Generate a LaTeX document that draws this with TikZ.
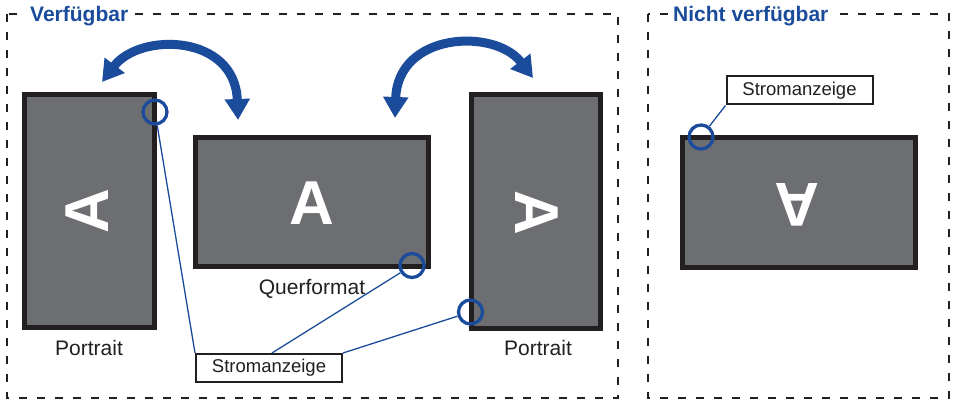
\documentclass[tikz,border=0pt]{standalone}
\usepackage{fontspec}
\setmainfont{Liberation Sans}
\usetikzlibrary{arrows.meta}
\definecolor{ablue}{HTML}{1B4C9C}
\definecolor{frame}{HTML}{231F20}
\definecolor{scr}{HTML}{6D6E71}
\begin{document}
\begin{tikzpicture}[x=1pt,y=-1pt,
  screen/.style={draw=frame, fill=scr, line width=5pt, inner sep=0pt},
  bigA/.style={text=white, font=\fontsize{62}{62}\selectfont\bfseries, inner sep=0pt},
  lbl/.style={font=\fontsize{21}{21}\selectfont, text=frame, anchor=base, inner sep=0pt},
  ind/.style={circle, draw=ablue, line width=3.3pt, minimum size=24pt, inner sep=0pt},
  conn/.style={draw=ablue, line width=1.3pt},
  tag/.style={draw=frame, fill=white, line width=2pt, font=\fontsize{18.5}{18.5}\selectfont, inner sep=0pt, text=frame, minimum width=146pt, minimum height=28pt},
  zone/.style={draw=frame, line width=2.3pt, dash pattern=on 8pt off 10pt},
  ztitle/.style={fill=white, text=ablue, font=\fontsize{21}{21}\selectfont\bfseries, anchor=base west, inner xsep=4pt, inner ysep=2pt},
  rot/.style={draw=ablue, line width=9pt, arrows={Triangle[length=21pt,width=24pt]-Triangle[length=21pt,width=24pt]}}
]
\useasboundingbox (0,0) rectangle (953,401);
\fill[white] (0,0) rectangle (953,401);

% zones
\draw[zone] (7,14) rectangle (618,398);
\draw[zone] (648,14) rectangle (949,398);
\node[ztitle] (t1) at (26,22) {Verfügbar};
\node[ztitle] (t2) at (669,22) {Nicht verfügbar};

% screens
\node[screen, minimum width=130pt, minimum height=233pt] (p1) at (89.5,211) {};
\node[screen, minimum width=233pt, minimum height=129pt] (q)  at (312,202) {};
\node[screen, minimum width=129pt, minimum height=234pt] (p2) at (536,211.5) {};
\node[screen, minimum width=233pt, minimum height=129pt] (q2) at (799,202.5) {};

\node[bigA, rotate=90]  (a1) at (87,211) {A};
\node[bigA]             (a2) at (312,203) {A};
\node[bigA, rotate=-90] (a3) at (537,213) {A};
\node[bigA, rotate=180] (a4) at (797,205) {A};

% labels
\node[lbl] (l1) at (89,355) {Portrait};
\node[lbl] (l2) at (312,294) {Querformat};
\node[lbl] (l3) at (538,355) {Portrait};

% indicator tags
\node[tag] (s1) at (269,368) {Stromanzeige};
\node[tag] (s2) at (799.5,90.5) {Stromanzeige};

% indicator circles
\node[ind] (c1) at (155,112) {};
\node[ind] (c2) at (412,265.5) {};
\node[ind] (c3) at (470.5,312) {};
\node[ind] (c4) at (701,137) {};

\draw[conn] (c1) -- (s1.north west);
\draw[conn] (c2) -- ([xshift=3pt]s1.north);
\draw[conn] (c3) -- (s1.north east);
\draw[conn] (c4) -- (s2.south west);

% rotation arrows
\coordinate (r1a) at (102,82);
\coordinate (r1b) at (238,120);
\coordinate (r2a) at (395,118);
\coordinate (r2b) at (533,78);
\draw[rot] (r1a) .. controls (140,32) and (235,34) .. (r1b);
\draw[rot] (r2a) .. controls (398,32) and (495,28) .. (r2b);
\end{tikzpicture}
\end{document}
